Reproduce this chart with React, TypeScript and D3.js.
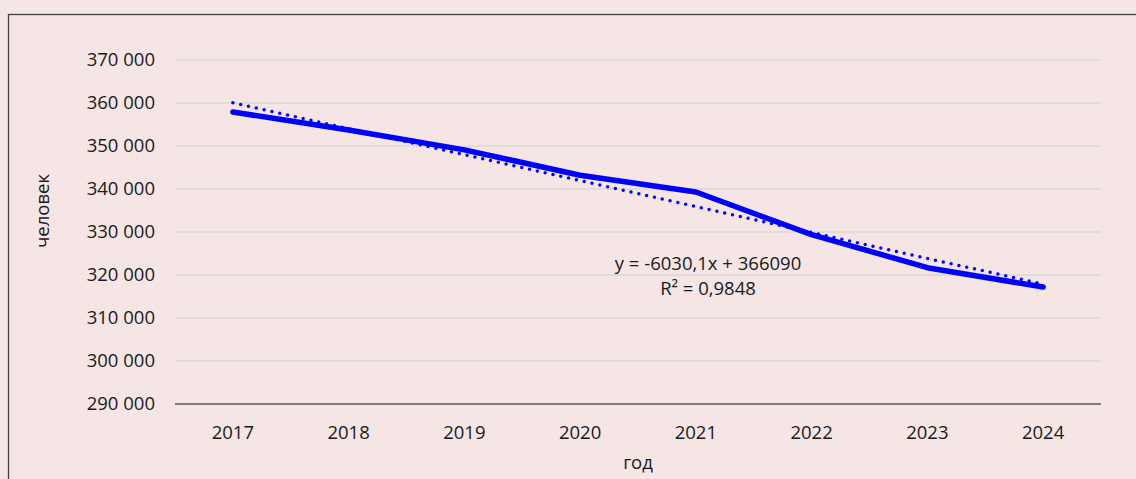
import React, { useEffect, useRef } from 'react';
import * as d3 from 'd3';

const years = ['2017', '2018', '2019', '2020', '2021', '2022', '2023', '2024'];
const population = [357900, 353700, 349100, 343200, 339300, 329400, 321700, 317200];
const yTicks = [290000, 300000, 310000, 320000, 330000, 340000, 350000, 360000, 370000];
const trendSlope = -6030.1;
const trendIntercept = 366090;
const equationLines = ['y = -6030,1x + 366090', 'R² = 0,9848'];

const width = 1136;
const height = 479;
const font = "'Open Sans', sans-serif";
const fontSize = 18.5;

export default function App() {
  const ref = useRef<SVGSVGElement>(null);

  useEffect(() => {
    const svg = d3.select(ref.current);
    svg.selectAll('*').remove();

    const left = 175, right = 1101, top = 60, bottom = 404;

    const x = d3.scaleBand().domain(years).range([left, right]);
    const y = d3.scaleLinear().domain([290000, 370000]).range([bottom, top]);
    const cx = (d: string) => (x(d) as number) + x.bandwidth() / 2;

    svg.append('rect')
      .attr('width', width).attr('height', height)
      .attr('fill', '#f5e5e5');

    // chart area frame, cropped at right and bottom
    svg.append('rect')
      .attr('x', 8.5).attr('y', 14.5)
      .attr('width', 1200).attr('height', 600)
      .attr('fill', 'none')
      .attr('stroke', '#404040')
      .attr('stroke-width', 1.3);

    // gridlines
    svg.append('g')
      .selectAll('line')
      .data(yTicks.slice(1))
      .enter()
      .append('line')
      .attr('x1', left).attr('x2', right)
      .attr('y1', d => y(d)).attr('y2', d => y(d))
      .attr('stroke', '#d9d9d9')
      .attr('stroke-width', 1.3);

    // x axis line
    svg.append('line')
      .attr('x1', left).attr('x2', right)
      .attr('y1', y(290000)).attr('y2', y(290000))
      .attr('stroke', '#595959')
      .attr('stroke-width', 1.3);

    const fmt = (v: number) => d3.format(',')(v).replace(/,/g, ' ');

    svg.append('g')
      .selectAll('text')
      .data(yTicks)
      .enter()
      .append('text')
      .attr('x', 155)
      .attr('y', d => y(d))
      .attr('dy', '0.35em')
      .attr('text-anchor', 'end')
      .attr('font-family', font)
      .attr('font-size', fontSize)
      .attr('fill', '#1a1a1a')
      .text(d => fmt(d));

    svg.append('g')
      .selectAll('text')
      .data(years)
      .enter()
      .append('text')
      .attr('x', d => cx(d))
      .attr('y', 439)
      .attr('text-anchor', 'middle')
      .attr('font-family', font)
      .attr('font-size', fontSize)
      .attr('fill', '#1a1a1a')
      .text(d => d);

    // trendline
    const trend = years.map((d, i) => ({ year: d, v: trendSlope * (i + 1) + trendIntercept }));
    svg.append('path')
      .datum(trend)
      .attr('d', d3.line<{ year: string; v: number }>().x(d => cx(d.year)).y(d => y(d.v)))
      .attr('fill', 'none')
      .attr('stroke', '#0000ff')
      .attr('stroke-width', 3.5)
      .attr('stroke-linecap', 'round')
      .attr('stroke-dasharray', '0 8');

    // data line
    svg.append('path')
      .datum(population)
      .attr('d', d3.line<number>().x((d, i) => cx(years[i])).y(d => y(d)))
      .attr('fill', 'none')
      .attr('stroke', '#0000ff')
      .attr('stroke-width', 5.5)
      .attr('stroke-linejoin', 'round')
      .attr('stroke-linecap', 'round');

    svg.append('g')
      .selectAll('text')
      .data(equationLines)
      .enter()
      .append('text')
      .attr('x', 708)
      .attr('y', (d, i) => 270 + i * 25)
      .attr('text-anchor', 'middle')
      .attr('font-family', font)
      .attr('font-size', fontSize)
      .attr('fill', '#1a1a1a')
      .text(d => d);

    svg.append('text')
      .attr('transform', `translate(49, 211) rotate(-90)`)
      .attr('text-anchor', 'middle')
      .attr('font-family', font)
      .attr('font-size', fontSize)
      .attr('fill', '#1a1a1a')
      .text('человек');

    svg.append('text')
      .attr('x', 638)
      .attr('y', 469)
      .attr('text-anchor', 'middle')
      .attr('font-family', font)
      .attr('font-size', fontSize)
      .attr('fill', '#1a1a1a')
      .text('год');
  }, []);

  return (
    <div style={{ position: 'fixed', left: 0, top: 0, width, height, overflow: 'hidden' }}>
      <svg ref={ref} width={width} height={height} style={{ display: 'block' }}></svg>
    </div>
  );
}
